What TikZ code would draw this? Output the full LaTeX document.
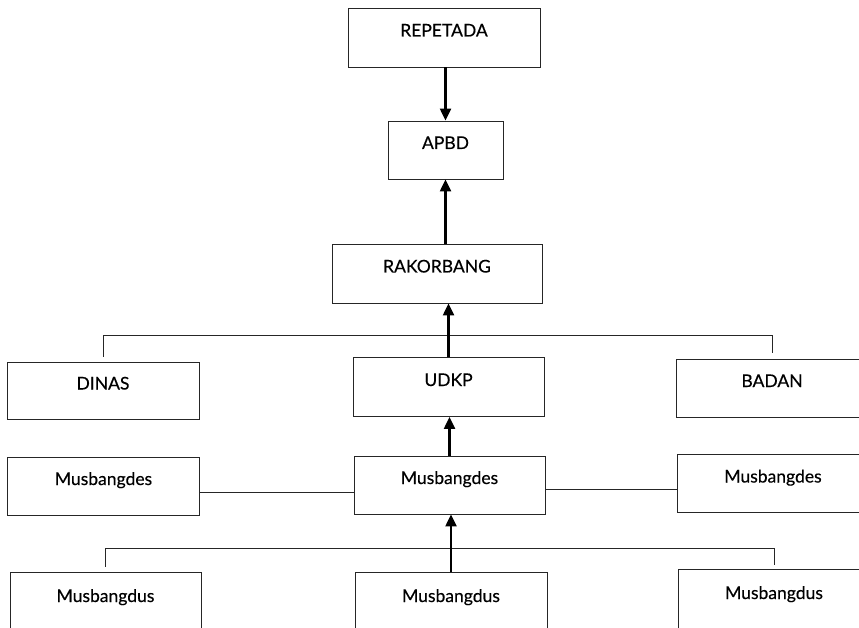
\documentclass[tikz,border=0pt]{standalone}
\usepackage{fontspec}
\setmainfont{Lato}[FakeBold=0.35]
\usetikzlibrary{arrows.meta}
\begin{document}
\begin{tikzpicture}[x=1pt,y=-1pt,
  box/.style={draw=black!85, line width=0.9pt, rectangle, inner sep=0pt,
    minimum width=192pt, minimum height=58pt,
    text height=13pt, text depth=15pt, font=\fontsize{17.5}{20}\selectfont},
  link/.style={draw=black!85, line width=0.8pt},
  up/.style={draw=black, line width=2.3pt, -{Triangle[length=12pt,width=11pt]}}]
\useasboundingbox (0,0) rectangle (859,628);
\clip (0,0) rectangle (859,628);

% planning chain
\node[box, minimum height=59pt] (rep) at (444,37.5) {REPETADA};
\node[box, minimum width=115pt] (apbd) at (445.5,150) {APBD};
\node[box, minimum width=210pt, minimum height=59pt] (rak) at (437,273.5) {RAKORBANG};

% agencies
\node[box, minimum height=57pt] (dinas) at (103,390.5) {DINAS};
\node[box, minimum width=191pt, minimum height=59pt] (udkp) at (448.5,387) {UDKP};
\node[box] (badan) at (772,388) {BADAN};

% village meetings
\node[box] (desL) at (103.5,486) {Musbangdes};
\node[box, minimum width=191pt] (desC) at (449.5,485) {Musbangdes};
\node[box] (desR) at (773,483.5) {Musbangdes};

% hamlet meetings
\node[box, minimum width=191pt, minimum height=62pt] (dusL) at (105.5,603) {Musbangdus};
\node[box, minimum height=62pt] (dusC) at (451,603) {Musbangdus};
\node[box, minimum height=62pt] (dusR) at (774,600) {Musbangdus};

% brackets and side links
\coordinate (barA) at (0,335);
\coordinate (barB) at (0,548);
\draw[link] ([yshift=5pt]dinas.north) -- (dinas.north |- barA) -- (badan.north |- barA) -- ([yshift=6pt]badan.north);
\draw[link] ([yshift=5pt]dusL.north) -- (dusL.north |- barB) -- (dusR.north |- barB) -- ([yshift=4pt]dusR.north);
\draw[link] ([yshift=-6pt]desL.east) -- ([yshift=-6pt]desL.east -| desC.west);
\draw[link] ([yshift=-4pt]desC.east) -- ([yshift=-4pt]desC.east -| desR.west);

% arrows
\draw[up] (rep.south -| apbd) -- (apbd.north);
\draw[up] (rak.north -| apbd) -- (apbd.south);
\draw[up] (udkp.north) -- (rak.south -| udkp);
\draw[up] (desC.north) -- (udkp.south -| desC);
\draw[up] (dusC.north) -- (desC.south -| dusC);
\end{tikzpicture}
\end{document}
